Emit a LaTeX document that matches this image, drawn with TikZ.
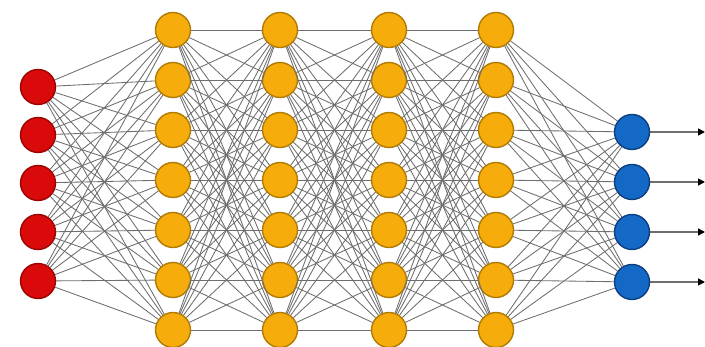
\documentclass[tikz,border=0pt]{standalone}
\usetikzlibrary{arrows.meta}
\definecolor{inred}{HTML}{DA0A0A}
\definecolor{inredd}{HTML}{9A0505}
\definecolor{hidor}{HTML}{F6AC0A}
\definecolor{hidord}{HTML}{B07C05}
\definecolor{outbl}{HTML}{1468C6}
\definecolor{outbld}{HTML}{0B3F80}
\definecolor{edgegray}{HTML}{6E6E6E}
\begin{document}
\begin{tikzpicture}[x=1pt,y=-1pt,
  neuron/.style={circle,minimum size=35pt,inner sep=0pt,line width=1.4pt},
  inp/.style={neuron,fill=inred,draw=inredd},
  hid/.style={neuron,fill=hidor,draw=hidord},
  outn/.style={neuron,fill=outbl,draw=outbld},
  conn/.style={draw=edgegray,line width=0.85pt},
  outarrow/.style={draw=edgegray,line width=1.5pt,-{Triangle[length=7pt,width=7pt,color=black]}}]
\useasboundingbox[fill=white] (0,0) rectangle (705,347);
% input layer
\foreach \y [count=\i] in {87,135,183,232,281}
  \node[inp] (i\i) at (38,\y) {};
% hidden layers
\foreach \x [count=\c] in {173,280,389,496}
  \foreach \y [count=\r] in {30,80,130,180,230,280,330}
    \node[hid] (h\c-\r) at (\x,\y) {};
% output layer
\foreach \y [count=\o] in {132,182,232,282}
  \node[outn] (o\o) at (632,\y) {};
% arrow ends
\foreach \y [count=\o] in {132,182,232,282}
  \coordinate (e\o) at (705,\y);
% connections
\foreach \i in {1,...,5}
  \foreach \j in {1,...,7}
    \draw[conn] (i\i) -- (h1-\j);
\foreach \c [evaluate=\c as \n using int(\c+1)] in {1,2,3}
  \foreach \a in {1,...,7}
    \foreach \b in {1,...,7}
      \draw[conn] (h\c-\a) -- (h\n-\b);
\foreach \a in {1,...,7}
  \foreach \o in {1,...,4}
    \draw[conn] (h4-\a) -- (o\o);
\foreach \o in {1,...,4}
  \draw[outarrow] (o\o) -- (e\o);
\end{tikzpicture}
\end{document}
